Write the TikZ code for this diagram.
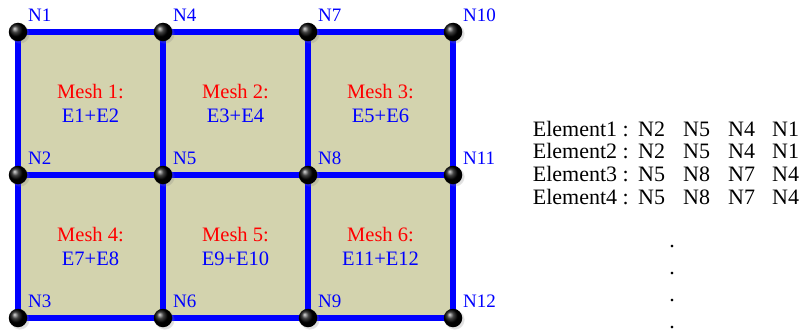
\documentclass[tikz,border=0pt]{standalone}
\usepackage{fontspec}
\setmainfont{Liberation Serif}
\usetikzlibrary{shadows}

\definecolor{meshtan}{RGB}{211,211,174}
\definecolor{meshblue}{RGB}{0,0,255}

\tikzset{
  meshline/.style={draw=meshblue,line width=5.5pt},
  gridball/.style={circle,inner sep=0pt,minimum size=18.5pt,ball color=black,
    circular drop shadow={shadow xshift=1.5pt,shadow yshift=-1.5pt,opacity=0.25}},
  nlabel/.style={text=meshblue,inner sep=0pt,font=\fontsize{19}{21}\selectfont},
  meshtext/.style={align=center,text=meshblue,font=\fontsize{20.5}{24}\selectfont},
  tabtext/.style={inner sep=0pt,font=\fontsize{22}{24}\selectfont}
}

\begin{document}
\begin{tikzpicture}[x=1pt,y=-1pt,line cap=round]
        \useasboundingbox (0,0) rectangle (802,334);

        % grid points
        \foreach \i in {0,...,3}{
            \foreach \j in {0,1,2}{
                \pgfmathtruncatemacro{\k}{3*\i+\j+1}
                \coordinate (c\k) at ({18+145*\i},{32+143*\j});
            }
        }

        \fill[meshtan] (c1) rectangle (c12);

        \foreach \a/\b/\c/\d in {1/4/7/10,2/5/8/11,3/6/9/12}{
            \draw[meshline] (c\a) -- (c\b) -- (c\c) -- (c\d);
        }
        \foreach \a/\b/\c in {1/2/3,4/5/6,7/8/9,10/11/12}{
            \draw[meshline] (c\a) -- (c\b) -- (c\c);
        }

        \foreach \k in {1,...,12}{
            \node[gridball] (n\k) at (c\k) {};
            \node[nlabel,anchor=west] (l\k) at ([shift={(10,-17)}]c\k) {N\k};
        }

        % meshes
        \foreach \m/\a/\b/\e in {1/1/5/E1+E2,2/4/8/E3+E4,3/7/11/E5+E6,
                                 4/2/6/E7+E8,5/5/9/E9+E10,6/8/12/E11+E12}{
            \path (c\a) -- (c\b) node[meshtext,midway] (m\m) {\textcolor{red}{Mesh \m:}\\\e};
        }

        % element table
        \foreach \r/\p/\q/\s/\t in {1/N2/N5/N4/N1,2/N2/N5/N4/N1,3/N5/N8/N7/N4,4/N5/N8/N7/N4}{
            \pgfmathsetmacro{\yy}{134+22.7*(\r-1)}
            \node[tabtext,anchor=mid east] (el\r) at (629,\yy) {Element\r\ :};
            \node[tabtext,anchor=mid west] (ea\r) at (638,\yy) {\p};
            \node[tabtext,anchor=mid west] (eb\r) at (683,\yy) {\q};
            \node[tabtext,anchor=mid west] (ec\r) at (728,\yy) {\s};
            \node[tabtext,anchor=mid west] (ed\r) at (772,\yy) {\t};
        }
        \foreach \d in {1,...,4}{
            \node[tabtext,anchor=base] (dot\d) at (672,{247+27*(\d-1)}) {.};
        }
\end{tikzpicture}
\end{document}
